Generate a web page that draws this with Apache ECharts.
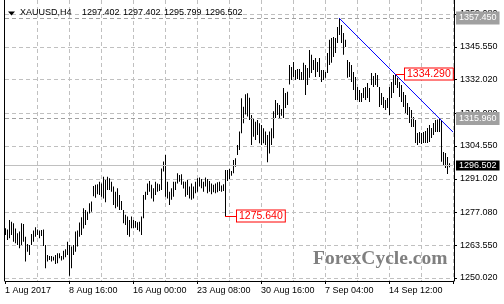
<!DOCTYPE html>
<html><head><meta charset="utf-8">
<script src="https://cdn.jsdelivr.net/npm/echarts@6/dist/echarts.min.js"></script>
<style>html,body{margin:0;padding:0;background:#fff}#c{width:504px;height:304px}</style>
</head><body><div id="c"></div>
<script>
const symbolName = 'XAUUSD,H4';
const headerOHLC = ['1297.402', '1297.402', '1295.799', '1296.502'];
const timeLabels = ['1 Aug 2017', '8 Aug 16:00', '16 Aug 00:00', '23 Aug 08:00', '30 Aug 16:00', '7 Sep 04:00', '14 Sep 12:00'];
const priceTicks = ['1250.020', '1263.550', '1277.080', '1291.020', '1304.550', '1318.080', '1332.020', '1345.550', '1359.080'];

const highs = [
1270.6,1270.1,1274.0,1273.3,1272.6,1270.5,1268.5,1269.2,1272.6,1272.3,1267.1,1264.1,1263.7,1268.2,1269.6,1271.0,1270.1,1269.6,1269.9,1270.1,
1263.7,1259.5,1259.1,1259.1,1258.8,1259.5,1260.2,1260.2,1259.1,1261.3,1261.9,1265.0,1263.7,1263.0,1263.7,1269.2,1269.6,1272.9,1275.1,1278.8,
1278.1,1277.4,1280.9,1281.6,1288.0,
1288.5,1288.7,1289.8,1289.1,1291.9,1290.5,1291.9,1291.2,1289.8,1287.8,1285.7,1287.1,1284.3,1281.8,1278.1,1276.1,1275.4,1274.0,1275.4,1274.0,
1273.6,1273.0,1273.3,1275.4,1284.3,1285.7,1289.1,1290.1,1288.5,1287.1,1289.8,1289.1,1288.7,1295.3,1298.1,1300.8,1289.8,1285.7,1287.1,1289.8,
1289.8,1293.3,1292.6,1292.9,1289.9,
1289.8,1290.5,1287.8,1289.1,1287.8,1289.8,1291.2,1291.5,1290.9,1289.8,1291.5,1290.9,1290.1,1289.1,1288.5,1289.1,1289.6,1289.8,1288.2,1288.7,
1294.6,1294.6,1295.1,1294.2,1298.8,1299.5,1305.0,1310.5,1324.3,1320.8,1325.9,1326.3,1324.5,1317.4,1316.0,1314.6,1315.3,1313.9,1313.2,1311.9,
1310.5,1309.1,1310.5,1311.9,1318.9,
1323.6,1322.3,1321.5,1319.8,1328.5,1326.5,1327.0,1338.0,1337.2,1339.3,1336.0,1336.4,1336.4,1335.1,1338.9,1338.0,1336.8,1344.2,1342.2,1340.1,
1340.9,1339.3,1340.9,1336.0,1336.0,1335.1,1343.0,1348.4,1349.2,1349.6,1349.2,1353.7,1357.45,1354.5,1351.2,1348.4,1340.1,1339.3,1338.0,1335.1,
1333.1,1328.9,1327.7,1326.5,1328.5,
1328.9,1330.6,1328.5,1334.7,1333.5,1334.7,1333.9,1328.9,1326.5,1324.8,1323.6,1324.4,1328.9,1331.0,1333.9,1334.29,1332.7,1331.0,1329.8,1326.9,
1325.6,1322.3,1320.7,1319.4,1316.5,1315.3,1309.9,1310.3,1309.9,1310.3,1310.8,1312.0,1313.2,1312.0,1314.1,1315.3,1315.5,1315.96,1315.3,1302.1,
1301.7,1300.0,1297.402
];
const lows = [
1267.8,1265.7,1266.4,1267.8,1265.0,1264.4,1263.7,1262.3,1263.7,1265.0,1256.8,1260.9,1259.5,1263.7,1265.0,1267.1,1267.8,1266.4,1267.4,1263.2,
1254.0,1256.8,1257.5,1256.8,1257.2,1255.8,1256.1,1258.2,1257.2,1257.7,1258.6,1259.5,1250.9,1254.0,1259.5,1260.9,1263.0,1267.1,1267.8,1270.5,
1271.9,1274.0,1276.7,1277.4,1283.8,
1283.2,1284.6,1284.3,1283.6,1282.9,1281.3,1286.4,1286.4,1285.7,1280.2,1278.8,1279.5,1278.1,1278.1,1272.6,1271.9,1267.8,1267.1,1270.6,1270.6,
1270.8,1269.9,1269.2,1267.8,1274.7,1282.3,1284.3,1285.7,1282.9,1281.6,1284.3,1285.7,1286.0,1286.4,1294.0,1283.6,1282.9,1280.2,1282.3,1283.6,
1286.4,1289.1,1289.8,1288.5,1287.0,
1283.6,1284.3,1282.9,1282.3,1282.9,1285.0,1285.7,1287.8,1287.1,1285.7,1287.8,1285.0,1285.7,1284.6,1285.4,1285.0,1285.4,1286.0,1285.7,1286.0,
1275.64,1290.1,1290.9,1292.3,1293.3,1296.0,1300.8,1302.9,1309.8,1313.9,1317.6,1316.7,1315.3,1305.0,1308.4,1307.0,1309.1,1305.7,1305.0,1305.7,
1305.0,1297.8,1301.5,1305.0,1307.8,
1316.1,1317.4,1316.1,1317.0,1316.1,1320.3,1321.5,1330.0,1331.8,1333.1,1331.8,1332.2,1331.8,1331.8,1331.8,1325.6,1329.8,1332.7,1334.7,1336.0,
1333.1,1335.1,1333.1,1331.0,1331.8,1332.7,1334.7,1338.0,1338.9,1341.3,1343.0,1347.1,1350.4,1347.1,1342.2,1345.5,1332.7,1333.1,1331.0,1327.7,
1323.6,1323.6,1322.7,1322.7,1324.4,
1323.6,1324.4,1322.7,1329.8,1328.9,1329.8,1328.9,1320.7,1321.5,1320.3,1319.4,1320.3,1317.4,1324.4,1326.5,1329.8,1328.5,1324.8,1322.7,1320.7,
1318.2,1317.4,1314.1,1312.4,1312.4,1305.8,1305.0,1305.8,1305.4,1305.8,1305.8,1305.8,1306.2,1307.9,1309.1,1310.3,1310.3,1310.3,1298.0,1296.7,
1295.5,1293.0,1295.799
];

const slotCount = 225;           // bar slots incl. empty right margin
const labelStep = 32;            // bars between time labels
const gridStep = 16;             // bars between vertical grid lines
const levelLines = [{value: 1357.45, text: '1357.450'}, {value: 1315.96, text: '1315.960'}];
const lastPrice = {value: 1296.502, text: '1296.502'};
const trendAnchors = [[167, 1357.45], [195, 1334.29]];
const callouts = [{idx: 110, value: 1275.64, text: '1275.640', to: 116}, {idx: 195, value: 1334.29, text: '1334.290', to: 200}];

const FONT = 'Liberation Sans, Arial, sans-serif';
const slots = Array.from({length: slotCount}, (_, i) => String(i));
const tickVals = priceTicks.map(Number);
const bars = highs.map((h, i) => [i, lows[i], h]);

const slope = (trendAnchors[1][1] - trendAnchors[0][1]) / (trendAnchors[1][0] - trendAnchors[0][0]);
const trendEndIdx = slotCount - 1;
const trendEndVal = trendAnchors[0][1] + slope * (trendEndIdx - trendAnchors[0][0]);

const chart = echarts.init(document.getElementById('c'), null, {renderer: 'canvas'});
chart.setOption({
  animation: false,
  backgroundColor: '#fff',
  grid: {left: 5, right: 51, top: 0, bottom: 23},
  xAxis: {
    type: 'category', data: slots, boundaryGap: false,
    axisLine: {lineStyle: {color: '#000', width: 1}},
    axisTick: {show: true, interval: (i) => i % labelStep === 0, length: 3, lineStyle: {color: '#000'}},
    axisLabel: {interval: (i) => i % labelStep === 0, formatter: (v, i) => timeLabels[i / labelStep] || '',
      align: 'left', margin: 5, fontSize: 9, fontFamily: FONT, color: '#000'},
    splitLine: {show: true, interval: (i) => i > 0 && i % gridStep === 0, lineStyle: {color: '#c0c0c0', type: [4, 3]}}
  },
  yAxis: {
    type: 'value', position: 'right', offset: 1, min: 1248.78, max: 1364.87, scale: true,
    axisLine: {show: true, lineStyle: {color: '#000'}},
    axisTick: {show: true, customValues: tickVals, length: 3, lineStyle: {color: '#000'}},
    axisLabel: {customValues: tickVals, formatter: (v) => Number(v).toFixed(3), margin: 6, fontSize: 9, fontFamily: FONT, color: '#000'},
    splitLine: {show: true, lineStyle: {color: '#c0c0c0', type: [4, 3]}}
  },
  series: [
    {
      type: 'custom', data: bars, encode: {x: 0, y: [1, 2]}, z: 3,
      renderItem: (params, api) => {
        const lo = api.coord([api.value(0), api.value(1)]);
        const hi = api.coord([api.value(0), api.value(2)]);
        return {type: 'rect', shape: {x: Math.round(lo[0]), y: hi[1], width: 1, height: Math.max(1, lo[1] - hi[1])}, style: {fill: '#000'}};
      }
    },
    {
      type: 'line', z: 6, silent: true, symbol: 'none', showSymbol: false,
      data: [[trendAnchors[0][0], trendAnchors[0][1]], [trendEndIdx, trendEndVal]],
      lineStyle: {color: '#0000ff', width: 1, type: 'solid'},
      itemStyle: {color: '#0000ff'}
    },
    {
      type: 'line', data: [], z: 4,
      markLine: {
        silent: true, symbol: ['none', 'none'], animation: false,
        data: [
          ...levelLines.map(l => ({yAxis: l.value, name: l.text,
            lineStyle: {color: '#a0a0a0', type: [4, 3], width: 1},
            label: {show: true, position: 'end', formatter: '{b}', distance: 3, color: '#fff', backgroundColor: '#a0a0a0',
              fontSize: 9, fontFamily: FONT, lineHeight: 10, padding: [2, 3, 1, 3]}})),
          {yAxis: lastPrice.value, name: lastPrice.text,
            lineStyle: {color: '#c0c0c0', type: 'solid', width: 1},
            label: {show: true, position: 'end', formatter: '{b}', distance: 3, color: '#fff', backgroundColor: '#000',
              fontSize: 9, fontFamily: FONT, lineHeight: 10, padding: [0, 3, 0, 3]}}
        ]
      }
    },
    {
      type: 'line', data: [], z: 5,
      markLine: {
        silent: true, symbol: ['none', 'none'], animation: false,
        lineStyle: {color: '#ff0000', type: 'solid', width: 1},
        data: callouts.map(c => [
            {coord: [String(c.idx), c.value], name: c.text,
              label: {show: true, position: 'end', formatter: '{b}', distance: 0, color: '#ff0000', backgroundColor: '#fff',
                borderColor: '#ff0000', borderWidth: 1, fontSize: 10.5, fontFamily: FONT, lineHeight: 11, padding: [0, 2, 0, 2]}},
            {coord: [String(c.to), c.value]}
        ])
      }
    }
  ],
  graphic: [
    {type: 'line', shape: {x1: 4.5, y1: 0, x2: 4.5, y2: 281}, style: {stroke: '#000', lineWidth: 1}, z: 10},
    {type: 'polygon', shape: {points: [[8, 11.5], [15, 11.5], [11.5, 15.5]]}, style: {fill: '#000'}, z: 10},
    {type: 'text', left: 20, top: 8, style: {text: symbolName, fontSize: 9, fontFamily: FONT, fill: '#000'}, z: 10},
    ...headerOHLC.map((t, k) => ({type: 'text', left: 82 + 41 * k, top: 8, style: {text: t, fontSize: 9, fontFamily: FONT, fill: '#000'}, z: 10})),
    {type: 'text', left: 313, top: 249, style: {text: 'ForexCycle.com', fontSize: 19.5, fontWeight: 'bold',
      fontFamily: 'Liberation Serif, Times New Roman, serif', fill: '#808080'}, z: 1}
  ]
});
</script></body></html>
